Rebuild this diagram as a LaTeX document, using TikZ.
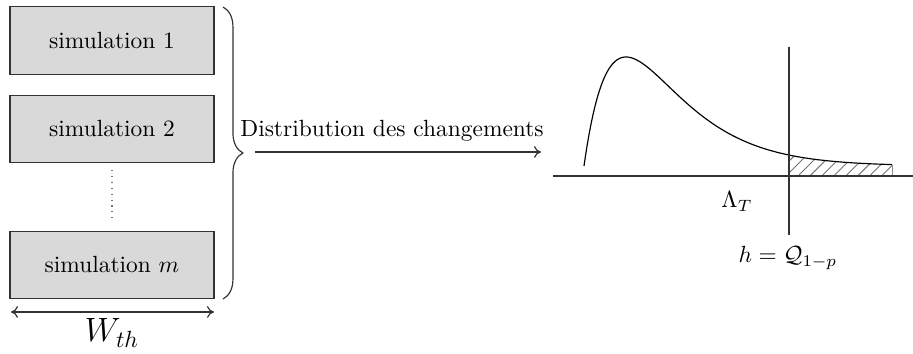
\documentclass[tikz,border=0pt]{standalone}
\usetikzlibrary{arrows.meta,decorations.pathreplacing,patterns.meta}
\pgfmathdeclarefunction{dens}{1}{\pgfmathparse{176-(10+109*(#1/42)*exp(1-#1/42))}}
\begin{document}
\begin{tikzpicture}[x=0.427pt,y=-0.427pt,
  simbox/.style={draw=black!80,fill=black!15,line width=0.5pt,minimum width=87.1pt,minimum height=28.8pt,inner sep=0pt},
  conn/.style={draw=black!80,line width=0.5pt},
  arr/.style={conn,-{To[length=3pt,width=5pt]}},
  darr/.style={conn,{To[length=3pt,width=5pt]}-{To[length=3pt,width=5pt]}}]
\useasboundingbox (0,0) rectangle (913,354);
\node[simbox] (s1) at (112,40.5) {simulation 1};
\node[simbox] (s2) at (112,129) {simulation 2};
\node[simbox] (sm) at (112,265) {simulation $m$};
\draw[draw=black!55,line width=0.5pt,dotted,shorten <=3pt,shorten >=3.6pt] (s2.south) -- (sm.north);
\coordinate (wl) at (11,312);
\coordinate (wr) at (214,312);
\draw[darr] (wl) -- (wr);
\node[anchor=base] (wth) at (112,342) {\Large $W_{th}$};
\coordinate (bt) at (223,7);
\coordinate (bb) at (223,299);
\draw[conn,decorate,decoration={brace,amplitude=8.5pt}] (bt) -- (bb);
\coordinate (a0) at (255,152);
\coordinate (a1) at (541,152);
\draw[arr] (a0) -- (a1);
\node[anchor=base] (dl) at (392,137) {Distribution des changements};
% plot
\coordinate (xl) at (553,176);
\coordinate (xr) at (913,176);
\coordinate (vt) at (789,47);
\coordinate (vb) at (789,235);
\fill[pattern={Lines[angle=45,distance=3.6pt,line width=0.4pt]},pattern color=black!55]
  (789,176) -- plot[domain=205:308,samples=40] ({584+\x},{dens(\x)}) -- (892,176) -- cycle;
\draw[black!45,line width=0.4pt] (892,176) -- (892,{dens(308)});
\draw[black,line width=0.5pt] plot[domain=0:308,samples=160,smooth] ({584+\x},{dens(\x)});
\draw[conn] (xl) -- (xr);
\draw[conn] (vt) -- (vb);
\node[anchor=base] (lt) at (737,208) {$\Lambda_T$};
\node[anchor=base] (hq) at (788,263) {$h = \mathcal{Q}_{1-p}$};
\end{tikzpicture}
\end{document}
